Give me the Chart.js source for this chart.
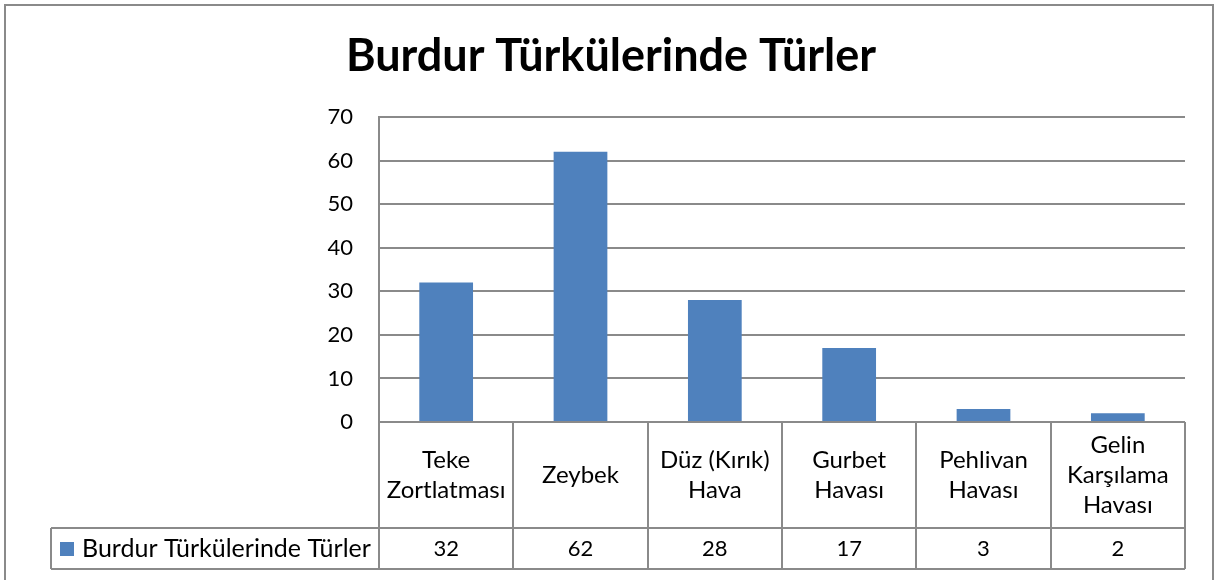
<!DOCTYPE html>
<html>
<head>
<meta charset="utf-8">
<script src="https://cdn.jsdelivr.net/npm/chart.js@4.4.0/dist/chart.umd.min.js"></script>
<style>
  body { margin: 0; background: #fff; }
  #wrap { position: relative; width: 1221px; height: 580px; }
</style>
</head>
<body>
<div id="wrap"><canvas id="chart-turler"></canvas></div>
<script>
// data
const chartTitle = 'Burdur Türkülerinde Türler';
const seriesName = 'Burdur Türkülerinde Türler';
const categories = [
  ['Teke', 'Zortlatması'],
  ['Zeybek'],
  ['Düz (Kırık)', 'Hava'],
  ['Gurbet', 'Havası'],
  ['Pehlivan', 'Havası'],
  ['Gelin', 'Karşılama', 'Havası']
];
const values = [32, 62, 28, 17, 3, 2];
const yTicks = [0, 10, 20, 30, 40, 50, 60, 70];

const FONT = "Lato, 'Open Sans', sans-serif";
const LINE = '#8a8a8a';
const BAR = '#4F81BD';

// title, outer frame and the data table under the axis
const tablePlugin = {
  id: 'dataTable',
  afterDraw(chart) {
    const ctx = chart.ctx;
    const area = chart.chartArea;
    const x = chart.scales.x;
    const n = categories.length;
    const cw = (area.right - area.left) / n;
    const rowTop = area.bottom;
    const rowMid = 528;
    const rowBot = 569;
    const legLeft = 51;

    ctx.save();
    // outer frame
    ctx.strokeStyle = LINE;
    ctx.lineWidth = 2;
    ctx.beginPath();
    ctx.moveTo(5, 580);
    ctx.lineTo(5, 5);
    ctx.lineTo(1213, 5);
    ctx.lineTo(1213, 580);
    ctx.stroke();

    // title
    ctx.fillStyle = '#000';
    ctx.font = 'bold 45px ' + FONT;
    ctx.textAlign = 'center';
    ctx.textBaseline = 'alphabetic';
    ctx.fillText(chartTitle, 611, 71);

    // table grid
    ctx.beginPath();
    ctx.moveTo(legLeft, rowMid); ctx.lineTo(area.right, rowMid);
    ctx.moveTo(legLeft, rowBot); ctx.lineTo(area.right, rowBot);
    ctx.moveTo(legLeft, rowMid); ctx.lineTo(legLeft, rowBot);
    for (let i = 0; i <= n; i++) {
      const px = Math.round(area.left + i * cw);
      ctx.moveTo(px, rowTop); ctx.lineTo(px, rowBot);
    }
    ctx.stroke();

    // category labels and values
    ctx.font = '24px ' + FONT;
    ctx.textBaseline = 'middle';
    ctx.fillStyle = '#000';
    const lh = 30;
    const cy = (rowTop + rowMid) / 2;
    categories.forEach((lines, i) => {
      const cx = x.getPixelForValue(i);
      const y0 = cy - (lines.length - 1) * lh / 2;
      lines.forEach((t, j) => ctx.fillText(t, cx, y0 + j * lh));
    });
    ctx.font = '22px ' + FONT;
    values.forEach((v, i) => {
      ctx.fillText(String(v), x.getPixelForValue(i), (rowMid + rowBot) / 2);
    });

    // legend key in the table
    ctx.fillStyle = BAR;
    ctx.fillRect(60, 542, 14, 14);
    ctx.fillStyle = '#000';
    ctx.textAlign = 'left';
    ctx.font = '25px ' + FONT;
    ctx.fillText(seriesName, 82, (rowMid + rowBot) / 2);
    ctx.restore();
  }
};

const chartTurler = new Chart(document.getElementById('chart-turler'), {
  type: 'bar',
  data: {
    labels: categories,
    datasets: [{
      label: seriesName,
      data: values,
      backgroundColor: BAR,
      barPercentage: 0.4,
      categoryPercentage: 1
    }]
  },
  options: {
    responsive: true,
    maintainAspectRatio: false,
    animation: false,
    layout: { padding: { left: 0, top: 117, right: 36, bottom: 158 } },
    plugins: {
      legend: { display: false },
      title: { display: false },
      tooltip: { enabled: false }
    },
    scales: {
      x: { display: false },
      y: {
        min: 0,
        max: 70,
        afterFit: (scale) => { scale.width = 379; },
        afterBuildTicks: (scale) => { scale.ticks = yTicks.map(v => ({ value: v })); },
        ticks: { color: '#000', padding: 26, font: { family: FONT, size: 22 } },
        grid: { color: LINE, lineWidth: 2, drawTicks: false },
        border: { color: LINE, width: 2 }
      }
    }
  },
  plugins: [tablePlugin]
});
</script>
</body>
</html>
